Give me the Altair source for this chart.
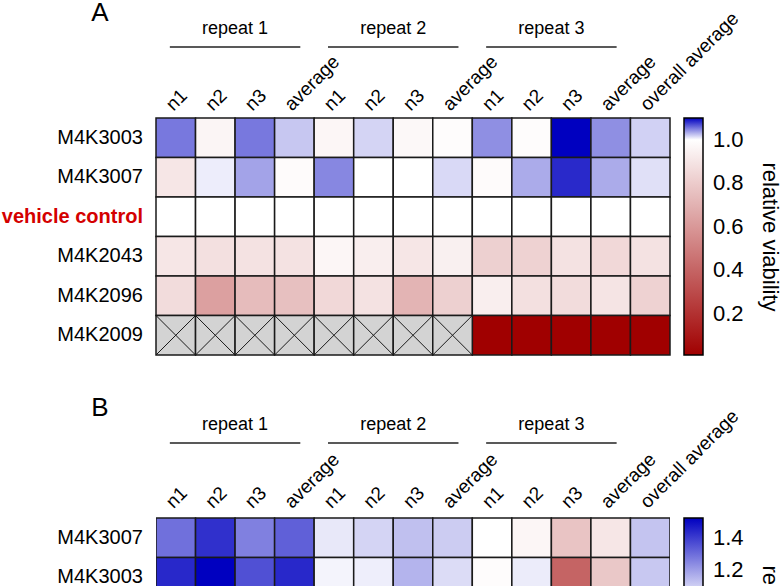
import altair as alt
import pandas as pd

FONT = "Liberation Sans"

# ---------------- data ----------------
columns = ["n1", "n2", "n3", "average",
           "n1", "n2", "n3", "average",
           "n1", "n2", "n3", "average",
           "overall average"]
groups = ["repeat 1", "repeat 2", "repeat 3"]

rows_a = ["M4K3003", "M4K3007", "vehicle control", "M4K2043", "M4K2096", "M4K2009"]
m4k3003_a = [1.053, 0.961, 1.053, 1.022, 0.965, 1.017, 0.973, 0.990, 1.044, 0.990, 1.150, 1.044, 1.018]
m4k3007_a = [0.903, 1.007, 1.036, 0.985, 1.047, 1.000, 1.000, 1.015, 0.985, 1.033, 1.084, 1.033, 1.012]
vehicle_a = [1.0] * 13
m4k2043_a = [0.903, 0.880, 0.887, 0.887, 0.965, 0.933, 0.903, 0.942, 0.817, 0.825, 0.887, 0.849, 0.887]
m4k2096_a = [0.864, 0.631, 0.740, 0.755, 0.849, 0.887, 0.709, 0.817, 0.933, 0.880, 0.864, 0.895, 0.825]
m4k2009_a = [None] * 8 + [0.0, 0.0, 0.0, 0.0, 0.0]
values_a = [m4k3003_a, m4k3007_a, vehicle_a, m4k2043_a, m4k2096_a, m4k2009_a]

rows_b = ["M4K3007", "M4K3003"]
m4k3007_b = [1.294, 1.426, 1.261, 1.327, 1.047, 1.089, 1.130, 1.105, 1.000, 0.965, 0.769, 0.902, 1.121]
m4k3003_b = [1.443, 1.550, 1.360, 1.443, 1.023, 1.035, 1.154, 1.072, 0.988, 1.039, 0.392, 0.784, 1.113]
values_b = [m4k3007_b, m4k3003_b]

colorbar_ticks_a = [0.2, 0.4, 0.6, 0.8, 1.0]
colorbar_ticks_b = [0.2, 0.4, 0.6, 0.8, 1.0, 1.2, 1.4]

# ---------------- layout helpers (row / column units) ----------------
ROW_PX = 39.5
B_TOP = 400 / ROW_PX        # panel B grid starts here (row units)
Y_END = 468 / ROW_PX        # visible bottom of the page
CB_LEFT_PX = 528            # colorbar left edge, relative to plot origin
CB_THICK = 19

dom_a = [0.01, 1.0, 1.1]
dom_b = [0.0, 1.0, 1.525]
len_a = 237
len_b = 244

panels = [
    dict(name="A", rows=rows_a, vals=values_a, top=0.0,
         grp=-2.25, line=-1.80, col=-0.16, letter=-2.66),
    dict(name="B", rows=rows_b, vals=values_b, top=B_TOP,
         grp=-2.35, line=-1.90, col=-0.22, letter=-2.78),
]

cells, crosses, rowlab, collab, grplab, grpline, letters = [], [], [], [], [], [], []
for p in panels:
    top = p["top"]
    letters.append(dict(t=p["name"], x=-1.42, y=top + p["letter"]))
    for g, gname in enumerate(groups):
        grplab.append(dict(t=gname, x=4 * g + 2, y=top + p["grp"]))
        grpline.append(dict(x=4 * g + 0.35, x2=4 * g + 3.65, y=top + p["line"]))
    for j, c in enumerate(columns):
        collab.append(dict(t=c, x=j + 0.5 - 0.06, y=top + p["col"]))
    for i, r in enumerate(p["rows"]):
        rowlab.append(dict(t=r, x=-0.33, y=top + i + 0.5, red=(r == "vehicle control")))
        for j, v in enumerate(p["vals"][i]):
            cells.append(dict(panel=p["name"], row=r, column=columns[j],
                              x=j, x2=j + 1, y=top + i, y2=top + i + 1, value=v))
            if v is None:
                crosses.append(dict(x=j, x2=j + 1, y=top + i, y2=top + i + 1))
                crosses.append(dict(x=j, x2=j + 1, y=top + i + 1, y2=top + i))

cells = pd.DataFrame(cells)
xs = alt.Scale(domain=[0, 13], nice=False, zero=False)
ys = alt.Scale(domain=[0, Y_END], nice=False, zero=False, reverse=True)

X = alt.X("x:Q", scale=xs, axis=None)
Y = alt.Y("y:Q", scale=ys, axis=None)


def legend(ly, length, ticks):
    return alt.Legend(
        orient="none", legendX=CB_LEFT_PX, legendY=ly, direction="vertical", type="gradient",
        gradientLength=length, gradientThickness=CB_THICK,
        gradientStrokeColor="#000000", gradientStrokeWidth=1.5,
        values=ticks, format=".1f",
        labelFont=FONT, labelFontSize=22, labelColor="#000000", labelOffset=10,
        labelOverlap=False,
        title="relative viability", titleOrient="right", titleAnchor="middle",
        titleFont=FONT, titleFontSize=22, titleFontWeight="normal",
        titleColor="#000000", titlePadding=14, padding=0,
    )


base_cells = alt.Chart(cells)

layer_a = base_cells.transform_filter(
    "datum.panel === 'A' && isValid(datum.value)"
).mark_rect(stroke="#1a1a1a", strokeWidth=1.5).encode(
    x=X, x2="x2:Q", y=Y, y2="y2:Q",
    color=alt.Color("value:Q", scale=alt.Scale(
        domain=dom_a, range=["#a00000", "#ffffff", "#0000c0"],
        interpolate="rgb", clamp=True),
        legend=legend(0, len_a, colorbar_ticks_a)),
)

layer_missing = base_cells.transform_filter(
    "!isValid(datum.value)"
).mark_rect(fill="#d3d3d3", stroke="#1a1a1a", strokeWidth=1.5).encode(
    x=X, x2="x2:Q", y=Y, y2="y2:Q",
)

layer_cross = alt.Chart(pd.DataFrame(crosses)).mark_rule(
    color="#1a1a1a", strokeWidth=1
).encode(x=X, x2="x2:Q", y=Y, y2="y2:Q")

layer_b = base_cells.transform_filter(
    "datum.panel === 'B' && isValid(datum.value)"
).mark_rect(stroke="#1a1a1a", strokeWidth=1.5, clip=True).encode(
    x=X, x2="x2:Q", y=Y, y2="y2:Q",
    color=alt.Color("value:Q", scale=alt.Scale(
        domain=dom_b, range=["#a00000", "#ffffff", "#0000c0"],
        interpolate="rgb", clamp=True),
        legend=legend(B_TOP * ROW_PX, len_b, colorbar_ticks_b)),
)

rowdf = pd.DataFrame(rowlab)
layer_rowlab = alt.Chart(rowdf).transform_filter("!datum.red").mark_text(
    align="right", baseline="middle", font=FONT, fontSize=20, color="#000000"
).encode(x=X, y=Y, text="t:N")

layer_vc = alt.Chart(rowdf).transform_filter("datum.red").mark_text(
    align="right", baseline="middle", font=FONT, fontSize=20, fontWeight="bold",
    color="#d40000"
).encode(x=X, y=Y, text="t:N")

layer_collab = alt.Chart(pd.DataFrame(collab)).mark_text(
    align="left", baseline="alphabetic", angle=315, font=FONT, fontSize=19,
    color="#000000"
).encode(x=X, y=Y, text="t:N")

layer_grplab = alt.Chart(pd.DataFrame(grplab)).mark_text(
    align="center", baseline="middle", font=FONT, fontSize=18, color="#000000"
).encode(x=X, y=Y, text="t:N")

layer_grpline = alt.Chart(pd.DataFrame(grpline)).mark_rule(
    color="#222222", strokeWidth=1.5
).encode(x=X, x2="x2:Q", y=Y)

layer_letters = alt.Chart(pd.DataFrame(letters)).mark_text(
    align="center", baseline="middle", font=FONT, fontSize=26, color="#000000"
).encode(x=X, y=Y, text="t:N")

chart = alt.layer(
    layer_a, layer_missing, layer_cross, layer_b,
    layer_rowlab, layer_vc, layer_collab, layer_grplab, layer_grpline, layer_letters,
).resolve_scale(
    color="independent"
).properties(
    width=514, height=468,
    autosize=alt.AutoSizeParams(type="none"),
    padding={"left": 156, "top": 118, "right": 110, "bottom": 0},
    background="white",
).configure_view(stroke=None)

chart.save("out.html", embed_options={"renderer": "svg", "actions": False})
